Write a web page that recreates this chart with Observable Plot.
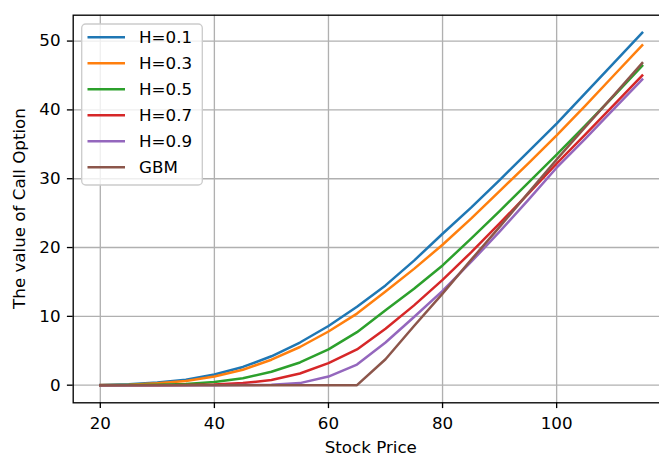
<!DOCTYPE html>
<html>
<head>
<meta charset="utf-8">
<script src="https://cdn.jsdelivr.net/npm/d3@7"></script>
<script src="https://cdn.jsdelivr.net/npm/@observablehq/plot@0.6"></script>
<style>
  html, body { margin: 0; padding: 0; background: #fff; overflow: hidden; }
  #chart svg { overflow: hidden; display: block; }
</style>
</head>
<body>
<div id="chart"></div>
<script>
// ---- data ----
const stockPrice = [20, 25, 30, 35, 40, 45, 50, 55, 60, 65, 70, 75, 80, 85, 90, 95, 100, 105, 110, 115];
const seriesNames = ["H=0.1", "H=0.3", "H=0.5", "H=0.7", "H=0.9", "GBM"];
const h01 = [0.02, 0.12, 0.38, 0.8, 1.55, 2.65, 4.2, 6.2, 8.6, 11.4, 14.5, 18.1, 22.0, 25.8, 29.8, 33.9, 38.0, 42.4, 46.8, 51.2];
const h03 = [0.01, 0.08, 0.28, 0.62, 1.25, 2.25, 3.7, 5.55, 7.8, 10.4, 13.6, 16.9, 20.4, 24.2, 28.2, 32.2, 36.3, 40.6, 45.0, 49.4];
const h05 = [0, 0.01, 0.05, 0.17, 0.45, 1.0, 1.95, 3.3, 5.2, 7.7, 10.9, 14.0, 17.4, 21.3, 25.3, 29.4, 33.5, 37.7, 42.0, 46.4];
const h07 = [0, 0, 0, 0.02, 0.1, 0.3, 0.75, 1.7, 3.2, 5.2, 8.2, 11.6, 15.3, 19.3, 23.5, 27.8, 32.2, 36.4, 40.7, 45.0];
const h09 = [0, 0, 0, 0, 0, 0.01, 0.05, 0.3, 1.25, 3.0, 6.2, 9.9, 13.7, 17.9, 22.3, 26.9, 31.6, 35.8, 40.1, 44.4];
const gbm = [0, 0, 0, 0, 0, 0, 0, 0, 0, 0, 3.77, 8.6, 13.3, 18.2, 23.0, 27.9, 32.8, 37.5, 42.1, 46.8];
const xTicks = [20, 40, 60, 80, 100];
const yTicks = [0, 10, 20, 30, 40, 50];
const xLabel = "Stock Price";
const yLabel = "The value of Call Option";

// ---- build table ----
const seriesValues = [h01, h03, h05, h07, h09, gbm];
const colors = ["#1f77b4", "#ff7f0e", "#2ca02c", "#d62728", "#9467bd", "#8c564b"];
const rows = [];
seriesNames.forEach((name, i) => {
  stockPrice.forEach((x, j) => rows.push({series: name, x, y: seriesValues[i][j]}));
});

// matplotlib-style 5% autoscale margins
const xmin = d3.min(stockPrice), xmax = d3.max(stockPrice);
const allY = seriesValues.flat();
const ymin = d3.min(allY), ymax = d3.max(allY);
const xpad = (xmax - xmin) * 0.05, ypad = (ymax - ymin) * 0.05;

const W = 659, H = 455;
const axLeft = 72.7, axTop = 14.7, axBottom = 402.3, axRight = 668.8;
const font = "DejaVu Sans, sans-serif";
const fs = 16.7;

const chart = Plot.plot({
  width: W,
  height: H,
  marginLeft: axLeft,
  marginTop: axTop,
  marginBottom: H - axBottom,
  marginRight: W - axRight,
  style: {fontFamily: font, fontSize: fs + "px", color: "#000", background: "#fff", overflow: "hidden"},
  x: {domain: [xmin - xpad, xmax + xpad], label: null},
  y: {domain: [ymin - ypad, ymax + ypad], label: null},
  color: {domain: seriesNames, range: colors},
  marks: [
    Plot.gridX(xTicks, {stroke: "#b0b0b0", strokeOpacity: 1, strokeWidth: 1.33}),
    Plot.gridY(yTicks, {stroke: "#b0b0b0", strokeOpacity: 1, strokeWidth: 1.33}),
    Plot.line(rows, {x: "x", y: "y", z: "series", stroke: "series", strokeWidth: 2.5, strokeLinejoin: "round", strokeLinecap: "square"}),
    Plot.frame({stroke: "#000", strokeWidth: 1.33}),
    Plot.axisX(xTicks, {tickSize: 5.8, tickPadding: 8.9, fontSize: fs, label: null, stroke: "#000", strokeWidth: 1.33}),
    Plot.axisY(yTicks, {tickSize: 5.8, tickPadding: 6.8, fontSize: fs, label: null, stroke: "#000", strokeWidth: 1.33})
  ]
});

document.getElementById("chart").appendChild(chart);

// ---- axis titles and legend ----
const svg = d3.select(chart);
svg.append("text")
  .attr("x", (axLeft + axRight) / 2).attr("y", 452.5)
  .attr("text-anchor", "middle")
  .attr("font-family", font).attr("font-size", fs).attr("fill", "#000")
  .text(xLabel);
svg.append("text")
  .attr("transform", `translate(25,${(axTop + axBottom) / 2}) rotate(-90)`)
  .attr("text-anchor", "middle")
  .attr("font-family", font).attr("font-size", fs).attr("fill", "#000")
  .text(yLabel);

const lg = svg.append("g");
lg.append("rect")
  .attr("x", 81.7).attr("y", 24).attr("width", 120.6).attr("height", 161)
  .attr("rx", 4).attr("ry", 4)
  .attr("fill", "#fff").attr("fill-opacity", 0.8)
  .attr("stroke", "#cccccc").attr("stroke-width", 1.33);
seriesNames.forEach((name, i) => {
  const cy = 37.3 + i * 26;
  lg.append("line")
    .attr("x1", 87.5).attr("x2", 125).attr("y1", cy).attr("y2", cy)
    .attr("stroke", colors[i]).attr("stroke-width", 2.5);
  lg.append("text")
    .attr("x", 139).attr("y", cy + 6.1)
    .attr("text-anchor", "start")
    .attr("font-family", font).attr("font-size", fs).attr("fill", "#000")
    .text(name);
});
</script>
</body>
</html>
